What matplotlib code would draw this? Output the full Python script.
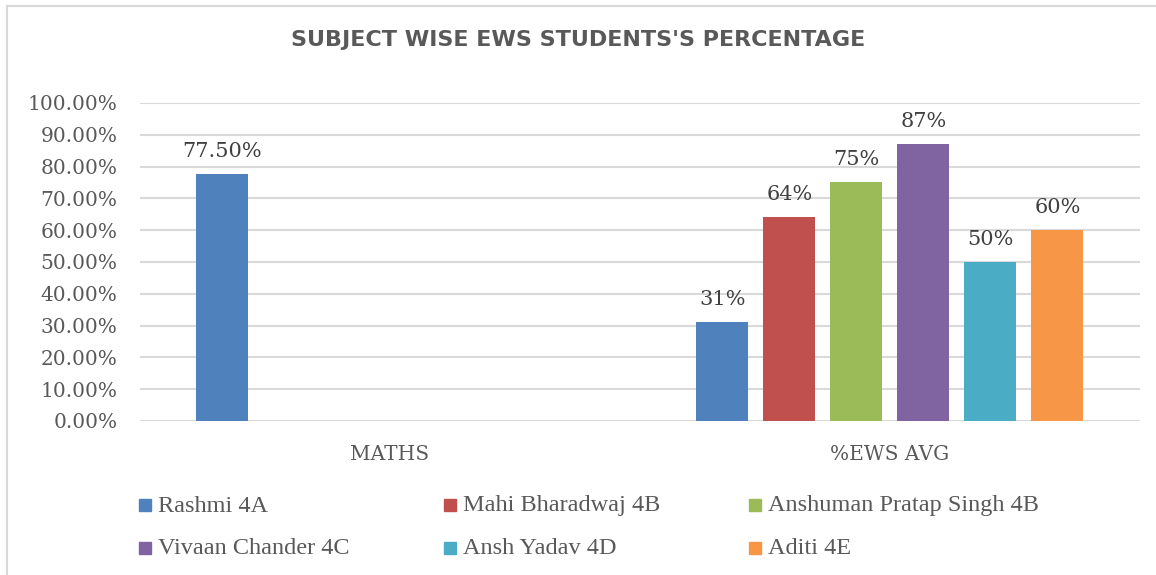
import numpy as np
import matplotlib.pyplot as plt
from matplotlib.lines import Line2D
from matplotlib.patches import Rectangle

# Data
categories = ['MATHS', '%EWS AVG']
students = ['Rashmi 4A', 'Mahi Bharadwaj 4B', 'Anshuman Pratap Singh 4B',
            'Vivaan Chander 4C', 'Ansh Yadav 4D', 'Aditi 4E']
maths = [0.775, np.nan, np.nan, np.nan, np.nan, np.nan]
ews_avg = [0.31, 0.64, 0.75, 0.87, 0.50, 0.60]
maths_labels = ['77.50%', '', '', '', '', '']
ews_labels = ['31%', '64%', '75%', '87%', '50%', '60%']
colors = ['#4f81bd', '#c0504d', '#9bbb59', '#8064a2', '#4bacc6', '#f79646']

serif = 'DejaVu Serif'
grey = '#595959'
W, H = 1156, 575

fig = plt.figure(figsize=(11.56, 5.75), dpi=100)
ax = fig.add_axes([0.121, 0.268, 0.865, 0.553])

x = np.arange(len(categories))
step = 0.134
width = 0.104
for i, name in enumerate(students):
    vals = [maths[i], ews_avg[i]]
    labs = [maths_labels[i], ews_labels[i]]
    bars = ax.bar(x + (i - 2.5) * step, vals, width, color=colors[i], zorder=3)
    for b, v, lab in zip(bars, vals, labs):
        if lab and not np.isnan(v):
            ax.text(b.get_x() + b.get_width() / 2, v + 0.042, lab,
                    ha='center', va='bottom', fontsize=15,
                    family=serif, color='#404040')

ax.set_xlim(-0.5, 1.5)
ax.set_ylim(0, 1.0)
ticks = np.arange(0, 1.01, 0.1)
ax.set_yticks(ticks)
ax.set_yticklabels([f'{v * 100:.2f}%' for v in ticks],
                   family=serif, fontsize=14.5, color=grey)
ax.set_xticks(x)
ax.set_xticklabels(categories, family=serif, fontsize=14.5, color=grey)
ax.tick_params(axis='both', length=0)
ax.tick_params(axis='x', pad=17)
ax.tick_params(axis='y', pad=16)
ax.grid(axis='y', color='#d9d9d9', linewidth=1.5, zorder=0)
for s in ax.spines.values():
    s.set_visible(False)

fig.text(0.5, 1 - 40 / H, "SUBJECT WISE EWS STUDENTS'S PERCENTAGE",
         ha='center', va='center', fontsize=16, fontweight='bold',
         family='DejaVu Sans', color=grey)

# legend, row by row, three columns
col_x = [139, 444, 749]
row_y = [505, 548]
for i, (name, c) in enumerate(zip(students, colors)):
    px = col_x[i % 3]
    py = row_y[i // 3]
    fig.add_artist(Rectangle((px / W, 1 - (py + 6) / H), 12 / W, 12 / H,
                             color=c, transform=fig.transFigure))
    fig.text((px + 19) / W, 1 - (py + 1) / H, name, ha='left', va='center',
             fontsize=17.5, family='Liberation Serif', color=grey)

# chart frame (top and left edges visible)
fig.add_artist(Line2D([0.006, 1.0], [0.99, 0.99], color='#d9d9d9', lw=1.5,
                      transform=fig.transFigure))
fig.add_artist(Line2D([0.006, 0.006], [0.0, 0.99], color='#d9d9d9', lw=1.5,
                      transform=fig.transFigure))

fig.savefig('out.png', dpi=100)
